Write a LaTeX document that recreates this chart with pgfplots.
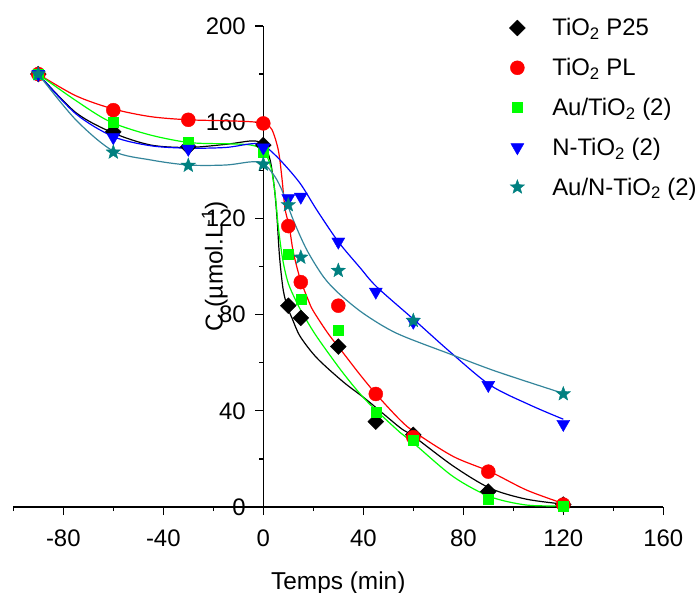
\documentclass[border=0pt]{standalone}
\usepackage{fontspec}
\setmainfont{Liberation Sans}
\usepackage{pgfplots}
\pgfplotsset{compat=1.18}
\usetikzlibrary{plotmarks}

\definecolor{mgreen}{RGB}{0,255,0}
\definecolor{mteal}{RGB}{0,128,128}
\definecolor{lteal}{RGB}{52,133,155}

\pgfdeclareplotmark{fstar}{%
  \pgfpathmoveto{\pgfqpointpolar{90}{\pgfplotmarksize}}%
  \pgfpathlineto{\pgfqpointpolar{126}{0.42\pgfplotmarksize}}%
  \pgfpathlineto{\pgfqpointpolar{162}{\pgfplotmarksize}}%
  \pgfpathlineto{\pgfqpointpolar{198}{0.42\pgfplotmarksize}}%
  \pgfpathlineto{\pgfqpointpolar{234}{\pgfplotmarksize}}%
  \pgfpathlineto{\pgfqpointpolar{270}{0.42\pgfplotmarksize}}%
  \pgfpathlineto{\pgfqpointpolar{306}{\pgfplotmarksize}}%
  \pgfpathlineto{\pgfqpointpolar{342}{0.42\pgfplotmarksize}}%
  \pgfpathlineto{\pgfqpointpolar{18}{\pgfplotmarksize}}%
  \pgfpathlineto{\pgfqpointpolar{54}{0.42\pgfplotmarksize}}%
  \pgfpathclose
  \pgfusepathqfillstroke}

\begin{document}
\begin{tikzpicture}
\useasboundingbox (-13.3bp,-86bp) rectangle (685.7bp,507bp);
\begin{axis}[
  scale only axis, width=650bp, height=481bp,
  xmin=-100, xmax=160, ymin=0, ymax=200,
  axis x line*=bottom, axis y line*=middle,
  xtick={-80,-40,...,160}, minor xtick={-100,-60,...,140},
  ytick={0,40,...,200}, minor ytick={20,60,...,180},
  hide obscured x ticks=false, hide obscured y ticks=false,
  tick align=outside,
  major tick length=8bp, minor tick length=4bp,
  every tick/.style={black, line width=1.3bp},
  axis line style={black, line width=1.5bp},
  /pgf/number format/assume math mode=true,
  tick label style={font=\fontsize{24}{28}\selectfont},
  xticklabel style={yshift=-11bp},
  yticklabel style={xshift=-6bp},
  xlabel={Temps (min)},
  every axis x label/.style={at={(axis description cs:0.5,0)}, yshift=-76bp, anchor=center, font=\fontsize{24.5}{28}\selectfont},
  ylabel={C (µmol.L\textsuperscript{-1})},
  every axis y label/.style={at={(axis description cs:0.31,0.5)}, rotate=90, anchor=center, font=\fontsize{24.5}{28}\selectfont},
  clip=false,
  legend cell align=left,
  legend style={at={(axis description cs:0.763,1.02)}, anchor=north west, draw=none, fill=none,
    font=\fontsize{24}{28}\selectfont, row sep=17bp, inner sep=0pt,
    /tikz/every odd column/.append style={column sep=25bp}},
]
% fitted curves
\addplot[black, line width=1.2bp, smooth, tension=0.5, forget plot] coordinates {
(-90,180) (-75,164) (-60,155.5) (-45,150.5) (-30,149.5) (-15,150.8) (-5,152.2) (-1,151.5) (1.5,148) (3,143) (4.5,132) (5.5,120) (6.5,104) (8,90) (10,82) (11.5,78.5) (14.7,71) (21.4,62) (32,52) (41.4,44.5) (54.7,33) (60,29.5) (76,17) (90.7,7.8) (105,3.3) (120,1.2)};
\addplot[red, line width=1.2bp, smooth, tension=0.5, forget plot] coordinates {
(-90,180) (-75,171) (-60,165.5) (-45,162.3) (-30,161) (-15,160.6) (-5,160.2) (0,159.5) (3.4,157) (6,148.4) (7.4,137.3) (8.7,124) (10.4,116.5) (12,106) (14.7,95) (18,86) (20,81.5) (26,72) (32,64) (38.7,55) (45.4,46.6) (54.7,36.2) (60.7,31) (76,21) (90.7,14.7) (105.4,7) (120.7,1.2)};
\addplot[mgreen, line width=1.2bp, smooth, tension=0.5, forget plot] coordinates {
(-90,180) (-75,169) (-61.3,160.2) (-45.3,154.7) (-29.3,151.5) (-13.3,151) (-5,150.5) (0,148.4) (3,141.5) (4.7,130.4) (6,116.5) (7.8,102.7) (10,93) (13.4,85) (16,80) (21.4,70.8) (32,55.6) (41.4,44) (54.7,31) (60.7,26) (76,12.6) (90.7,4.3) (105.4,0.8) (120,0.5)};
\addplot[blue, line width=1.2bp, smooth, tension=0.5, forget plot] coordinates {
(-90,180) (-75,163.5) (-60,154) (-45,150.2) (-30,149.2) (-15,149.5) (-5,151) (0,150.5) (6.7,144.3) (14.7,134.6) (21.4,123.5) (30,110.3) (38.7,99.5) (45.4,91.5) (60.7,77.5) (74.7,64.5) (90.7,50.7) (106.7,42.4) (120,36.5)};
\addplot[lteal, line width=1.2bp, smooth, tension=0.5, forget plot] coordinates {
(-90,180) (-75,161) (-60,148) (-45,144.3) (-30,142.2) (-15,142.2) (-5,143.5) (0,142.9) (4.7,137.3) (8,130.4) (12,119.3) (17.4,106.9) (24,95.8) (30,89) (40,80.5) (53.4,72.2) (74.7,63.6) (93.4,56.3) (120.7,47)};
% data points
\addplot[only marks, mark=square*, mark size=5.6bp, mark options={rotate=45, black, fill=black}] coordinates {
(-90,180) (-60,156) (-30,149.8) (0,150.5) (10,83.7) (15,78.6) (30,66.7) (45,35.5) (60,30) (90,6.4) (120,1)};
\addlegendentry{TiO\textsubscript{2} P25}
\addplot[only marks, mark=*, mark size=7bp, mark options={red, fill=red}] coordinates {
(-90,180) (-60,165) (-30,161) (0,159.5) (10,116.8) (15,93.5) (30,83.7) (45,47) (60,29) (90,14.7) (120,1)};
\addlegendentry{TiO\textsubscript{2} PL}
\addplot[only marks, mark=square*, mark size=5bp, mark options={mgreen, fill=mgreen}] coordinates {
(-90,180) (-60,160) (-30,151.6) (0,147.7) (10,105.2) (15,86.4) (30,73.6) (45,39.6) (60,27.6) (90,3.2) (120,0.5)};
\addlegendentry{Au/TiO\textsubscript{2} (2)}
\addplot[only marks, mark=triangle*, mark size=7.5bp, mark options={rotate=180, blue, fill=blue}] coordinates {
(-90,180) (-60,153.7) (-30,148.9) (0,149.4) (10,128.3) (15,129) (30,110.3) (45,89.5) (60,77) (90,50.7) (120,34.5)};
\addlegendentry{N-TiO\textsubscript{2} (2)}
\addplot[only marks, mark=fstar, mark size=7.5bp, mark options={mteal, fill=mteal}] coordinates {
(-90,180) (-60,147.5) (-30,142) (0,142.5) (10,125.6) (15,103.8) (30,98.3) (60,77.5) (120,47)};
\addlegendentry{Au/N-TiO\textsubscript{2} (2)}
\end{axis}
\end{tikzpicture}
\end{document}
